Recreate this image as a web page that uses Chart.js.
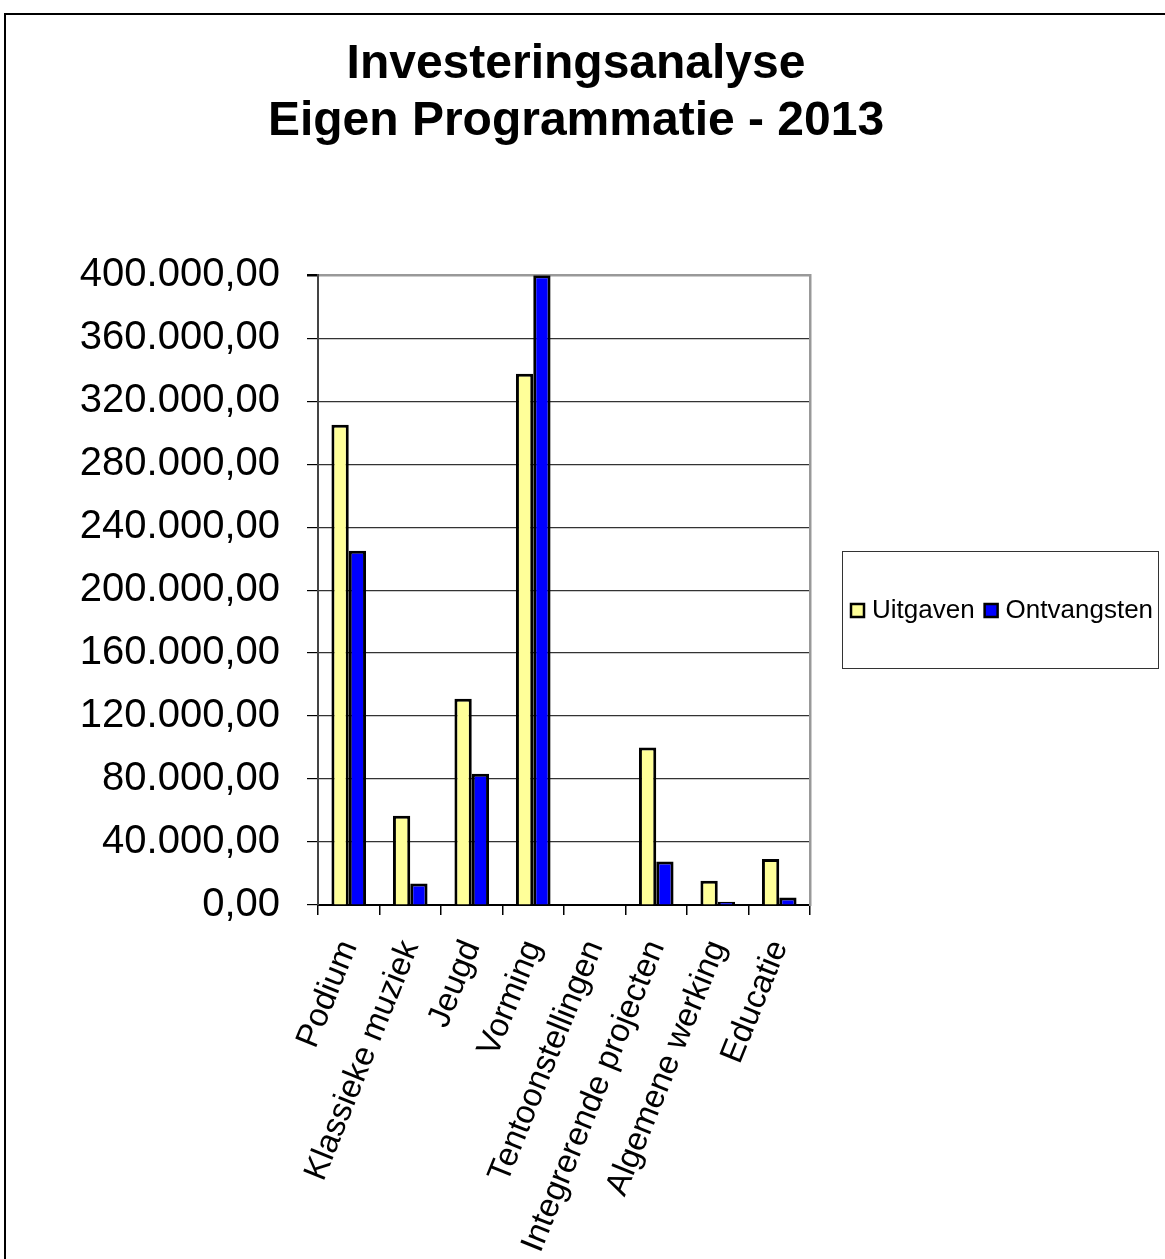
<!DOCTYPE html>
<html>
<head>
<meta charset="utf-8">
<script src="https://cdn.jsdelivr.net/npm/chart.js@4/dist/chart.umd.min.js"></script>
<style>
  body { margin: 0; background: #fff; }
  canvas { display: block; }
</style>
</head>
<body>
<canvas id="grafiek" width="1165" height="1259"></canvas>
<script>
// Data
const categorieen = ['Podium', 'Klassieke muziek', 'Jeugd', 'Vorming', 'Tentoonstellingen',
  'Integrerende projecten', 'Algemene werking', 'Educatie'];
const uitgaven = [305000, 56700, 131000, 337500, 0, 100000, 15400, 29200];
const ontvangsten = [225000, 13700, 83400, 400000, 0, 27700, 2000, 4800];
const titelRegels = ['Investeringsanalyse', 'Eigen Programmatie - 2013'];

const FONT = "'Liberation Sans', Arial, sans-serif";

// 400000 -> "400.000,00"
function formatBedrag(v) {
  const heel = Math.round(v).toString().replace(/\B(?=(\d{3})+(?!\d))/g, '.');
  return heel + ',00';
}

// kader rond de hele grafiek + legende
const kaderPlugin = {
  id: 'kader',
  beforeDraw(chart) {
    const ctx = chart.ctx;
    ctx.save();
    ctx.fillStyle = '#fff';
    ctx.fillRect(0, 0, chart.width, chart.height);
    ctx.strokeStyle = '#000';
    ctx.lineWidth = 2;
    ctx.strokeRect(5, 14, chart.width + 20, chart.height + 20);
    ctx.restore();
  },
  afterDraw(chart) {
    const ctx = chart.ctx;
    ctx.save();
    ctx.strokeStyle = '#333';
    ctx.lineWidth = 1;
    ctx.strokeRect(842.5, 551.5, 316, 117);
    ctx.font = '26px ' + FONT;
    ctx.textBaseline = 'middle';
    let x = 851;
    const y = 611;
    chart.data.datasets.forEach(ds => {
      ctx.fillStyle = ds.backgroundColor;
      ctx.fillRect(x, y - 7, 13, 13);
      ctx.strokeStyle = '#000';
      ctx.lineWidth = 2.5;
      ctx.strokeRect(x, y - 7, 13, 13);
      ctx.fillStyle = '#000';
      ctx.fillText(ds.label, x + 21, y);
      x += 21 + ctx.measureText(ds.label).width + 10;
    });
    ctx.restore();
  }
};

const dataGrafiek = {
  labels: categorieen,
  datasets: [{
    label: 'Uitgaven',
    data: uitgaven,
    backgroundColor: '#FFFF99',
    borderColor: '#000',
    borderWidth: 3,
  }, {
    label: 'Ontvangsten',
    data: ontvangsten,
    backgroundColor: '#0000FF',
    borderColor: '#000',
    borderWidth: 3,
  }]
};

const configGrafiek = {
  type: 'bar',
  data: dataGrafiek,
  options: {
    responsive: false,
    animation: false,
    devicePixelRatio: 1,
    layout: { padding: { left: 0, right: 13, top: 0, bottom: 0 } },
    datasets: { bar: { barPercentage: 1, categoryPercentage: 0.563 } },
    plugins: {
      legend: { display: false },
      tooltip: { enabled: false },
      title: {
        display: true,
        text: titelRegels,
        color: '#000',
        font: { family: FONT, size: 48, weight: 'bold', lineHeight: 1.19 },
        padding: { top: 36, bottom: 125 }
      }
    },
    scales: {
      x: {
        grid: { drawOnChartArea: false, offset: true, tickLength: 10, color: '#000', lineWidth: 1.5 },
        border: { color: '#000', width: 2 },
        ticks: {
          color: '#000',
          font: { family: FONT, size: 33 },
          maxRotation: 68,
          minRotation: 68,
          padding: 20,
          autoSkip: false
        },
        afterFit(scale) { scale.height = 354; }
      },
      y: {
        min: 0,
        max: 400000,
        grid: {
          color: ctx => (ctx.tick && ctx.tick.value === 400000 ? '#999' : '#333'),
          lineWidth: ctx => (ctx.tick && ctx.tick.value === 400000 ? 2.5 : 1.2),
          tickColor: '#000',
          tickLength: 11
        },
        border: { color: '#444', width: 2 },
        ticks: {
          stepSize: 40000,
          color: '#000',
          font: { family: FONT, size: 40 },
          padding: 27,
          callback: v => formatBedrag(v)
        },
        afterFit(scale) { scale.width = 318; }
      },
      rechts: {
        type: 'linear',
        position: 'right',
        display: true,
        grid: { drawOnChartArea: false, drawTicks: false },
        border: { color: '#999', width: 2.5 },
        ticks: { display: false },
        afterFit(scale) { scale.width = 342; }
      }
    }
  },
  plugins: [kaderPlugin]
};

new Chart(document.getElementById('grafiek'), configGrafiek);
</script>
</body>
</html>
